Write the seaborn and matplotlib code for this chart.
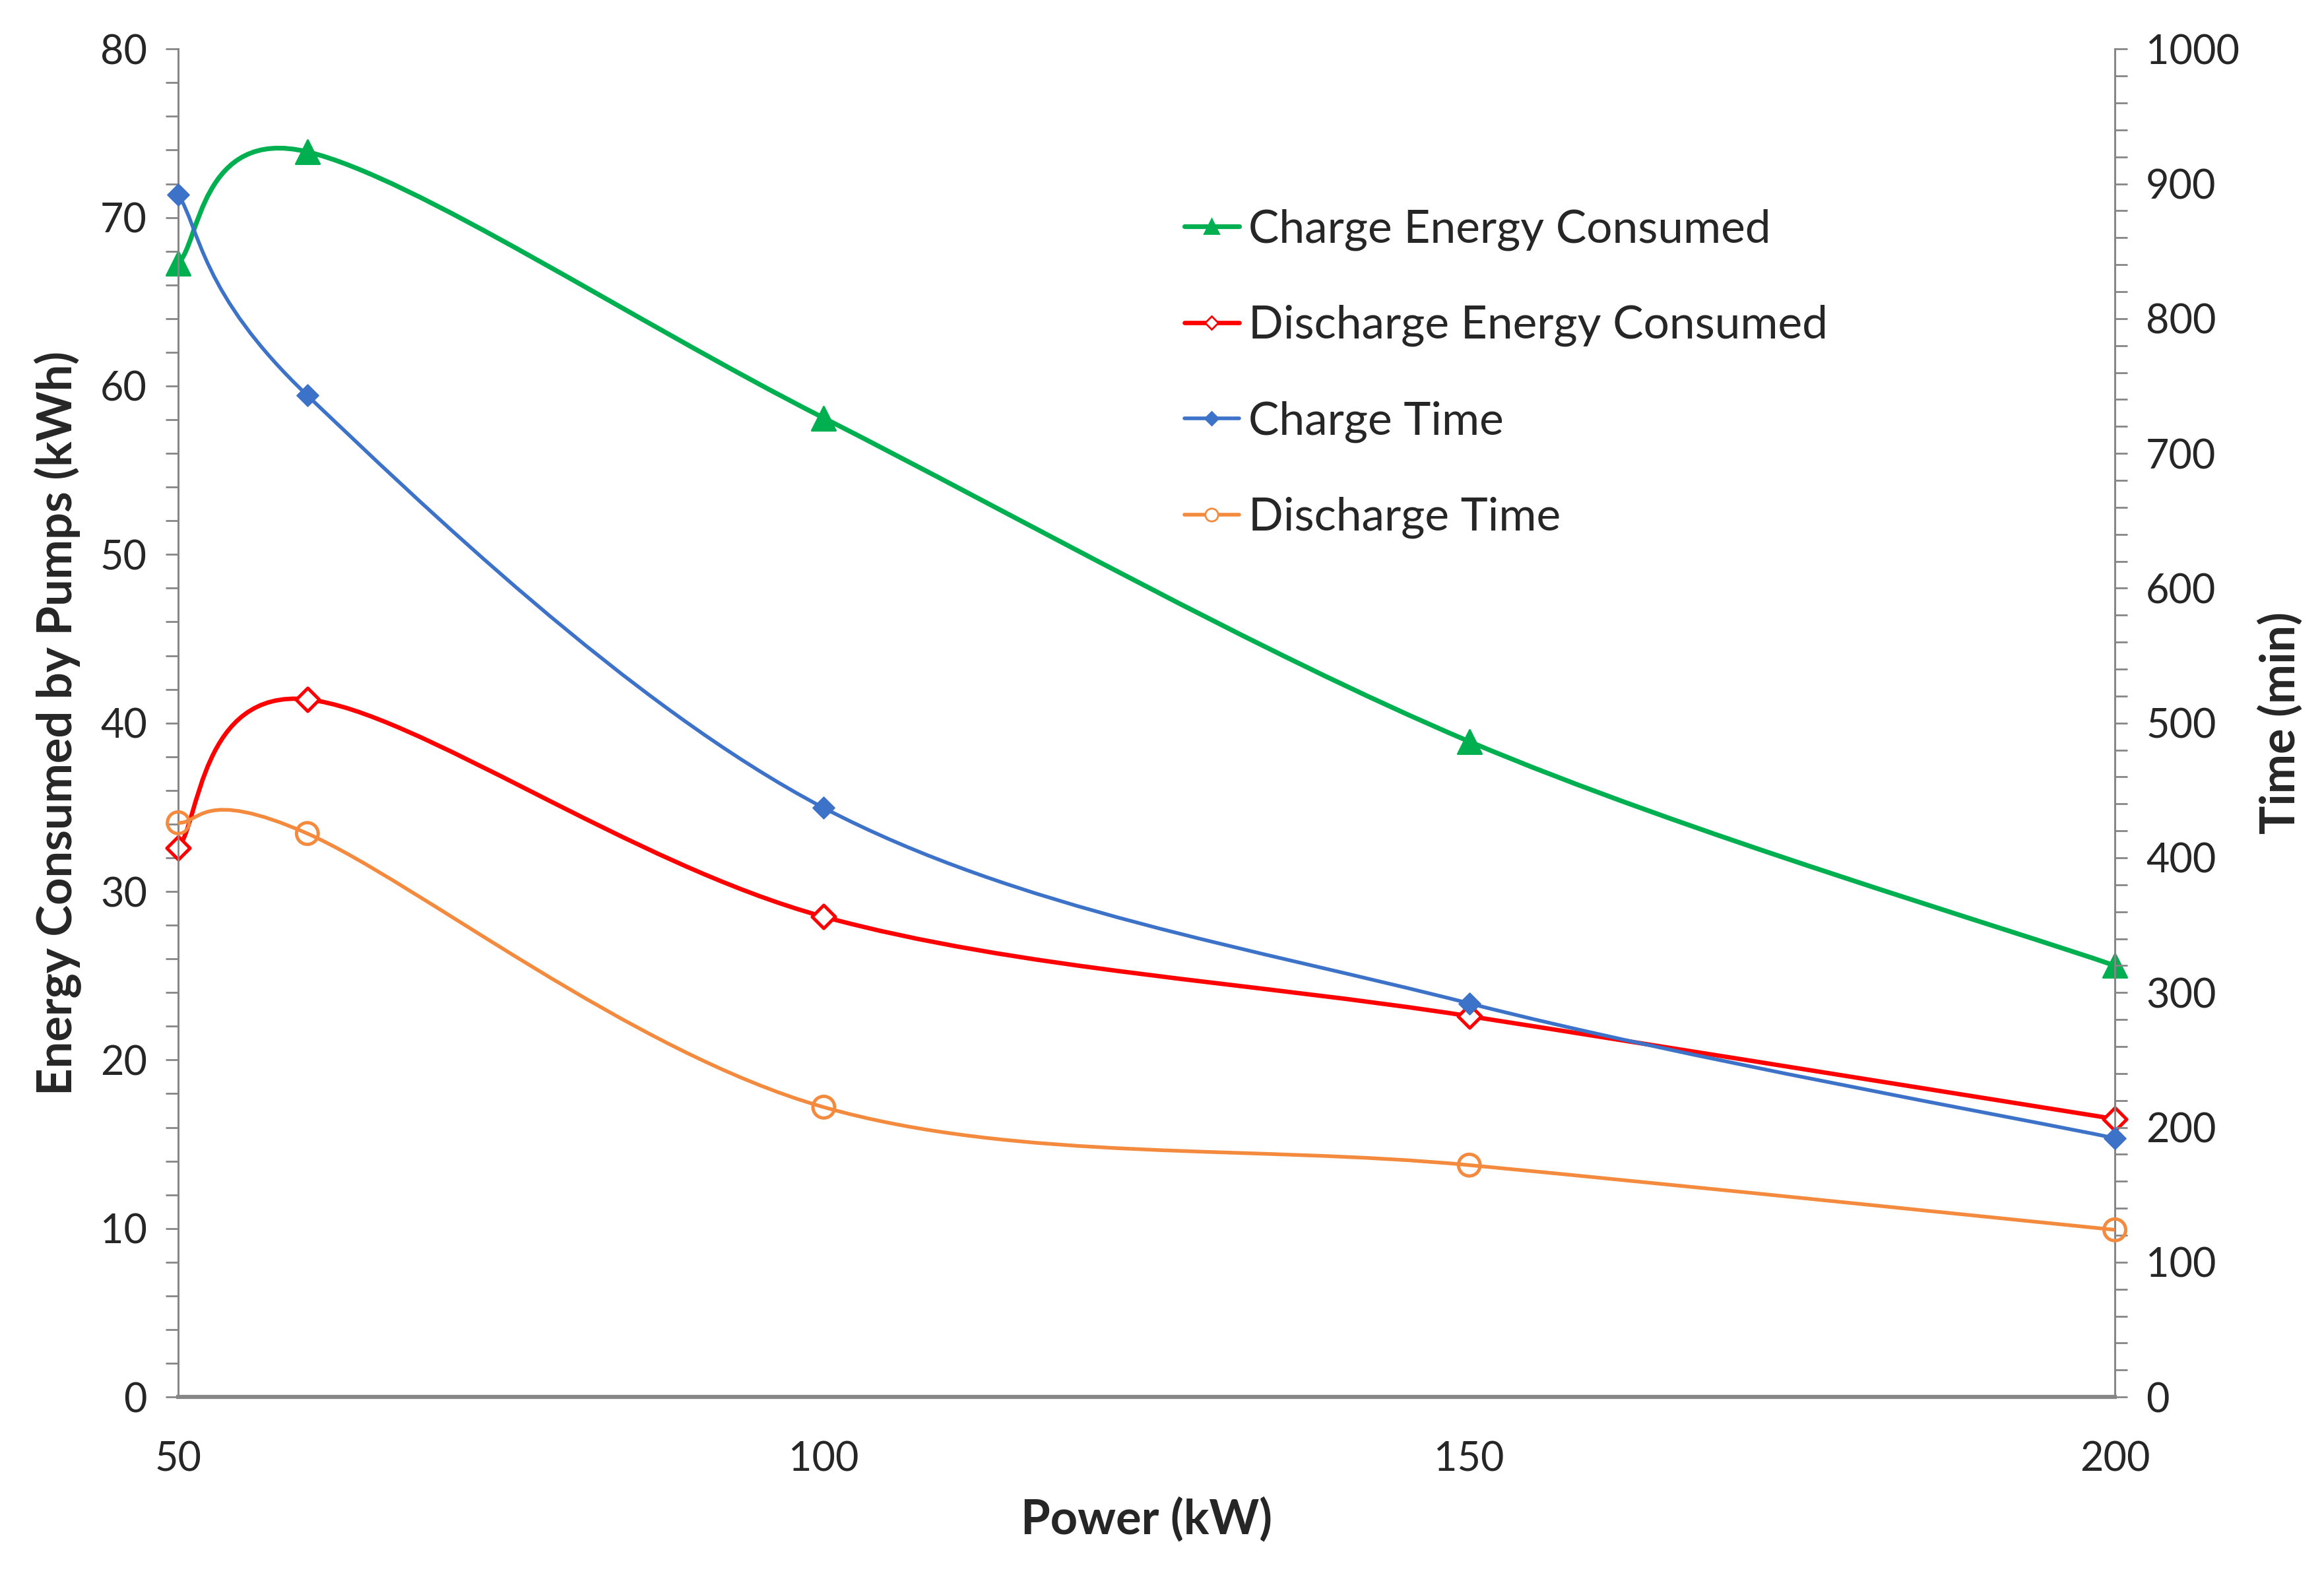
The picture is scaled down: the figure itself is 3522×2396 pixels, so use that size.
import numpy as np
import pandas as pd
import seaborn as sns
from matplotlib import pyplot as plt
from matplotlib.path import Path
from matplotlib.patches import PathPatch
from matplotlib.lines import Line2D
from matplotlib.ticker import MultipleLocator

# データ
power = [50, 60, 100, 150, 200]
charge_energy = [67.3, 73.9, 58.1, 38.9, 25.6]
discharge_energy = [32.6, 41.4, 28.5, 22.6, 16.5]
charge_time = [892, 743, 437, 292, 192]
discharge_time = [426, 418, 215, 172, 124]

sns.set_style("white")
plt.rcParams["font.family"] = ["Lato", "DejaVu Sans"]

GREEN = "#00B050"
RED = "#FF0000"
BLUE = "#3C72C8"
ORANGE = "#F38A3E"
AXIS = "#868686"


def smooth_path(x, y):
    # Excel風のスムージング (ベジェ曲線)
    p = np.column_stack([x, y]).astype(float)
    n = len(p)
    verts = [p[0]]
    codes = [Path.MOVETO]
    for i in range(n - 1):
        p0 = p[i - 1] if i > 0 else p[i]
        p3 = p[i + 2] if i + 2 < n else p[i + 1]
        c1 = p[i] + (p[i + 1] - p0) / 6
        c2 = p[i + 1] - (p3 - p[i]) / 6
        verts += [c1, c2, p[i + 1]]
        codes += [Path.CURVE4] * 3
    return Path(verts, codes)


fig, ax = plt.subplots(figsize=(17.61, 11.98), dpi=200)
fig.subplots_adjust(left=0.0767, right=0.910, top=0.969, bottom=0.1164)
ax2 = ax.twinx()

energy_df = pd.DataFrame({"power": power, "charge": charge_energy, "discharge": discharge_energy})
time_df = pd.DataFrame({"power": power, "charge": charge_time, "discharge": discharge_time})

# 曲線
ax.add_patch(PathPatch(smooth_path(power, charge_energy), fill=False, edgecolor=GREEN, lw=2.6, zorder=3))
ax.add_patch(PathPatch(smooth_path(power, discharge_energy), fill=False, edgecolor=RED, lw=2.4, zorder=3))
ax2.add_patch(PathPatch(smooth_path(power, charge_time), fill=False, edgecolor=BLUE, lw=2.0, zorder=3))
ax2.add_patch(PathPatch(smooth_path(power, discharge_time), fill=False, edgecolor=ORANGE, lw=2.0, zorder=3))

# マーカー
sns.scatterplot(data=energy_df, x="power", y="charge", marker="^", s=170, color=GREEN,
                edgecolor=GREEN, ax=ax, zorder=4, clip_on=False)
sns.scatterplot(data=energy_df, x="power", y="discharge", marker="D", s=80, facecolor="white",
                edgecolor=RED, linewidth=1.8, ax=ax, zorder=4, clip_on=False)
sns.scatterplot(data=time_df, x="power", y="charge", marker="D", s=70, color=BLUE,
                edgecolor=BLUE, ax=ax2, zorder=4, clip_on=False)
sns.scatterplot(data=time_df, x="power", y="discharge", marker="o", s=140, facecolor="none",
                edgecolor=ORANGE, linewidth=1.8, ax=ax2, zorder=4, clip_on=False)

# 軸
ax.set_xlim(50, 200)
ax.set_ylim(0, 80)
ax2.set_ylim(0, 1000)
ax.xaxis.set_major_locator(MultipleLocator(50))
ax.xaxis.set_minor_locator(MultipleLocator(10))
ax.yaxis.set_major_locator(MultipleLocator(10))
ax.yaxis.set_minor_locator(MultipleLocator(2))
ax2.yaxis.set_major_locator(MultipleLocator(100))
ax2.yaxis.set_minor_locator(MultipleLocator(20))

for a in (ax, ax2):
    for s in a.spines.values():
        s.set_color(AXIS)
        s.set_linewidth(1.0)
    a.spines["top"].set_visible(False)
    a.spines["bottom"].set_linewidth(2.2)
    a.tick_params(which="both", direction="out", color=AXIS, width=1.0, length=7, labelsize=22, pad=10)
    a.grid(False)

ax.tick_params(axis="x", which="both", length=10, pad=14)
ax.set_xlabel("Power (kW)", fontsize=26, fontweight="bold", labelpad=10)
ax.set_ylabel("Energy Consumed by Pumps (kWh)", fontsize=26, fontweight="bold", labelpad=10)
ax2.set_ylabel("Time (min)", fontsize=26, fontweight="bold", labelpad=10)

handles = [
    Line2D([], [], color=GREEN, lw=2.6, marker="^", markersize=8),
    Line2D([], [], color=RED, lw=2.4, marker="D", markersize=5, markerfacecolor="white", markeredgewidth=1.0),
    Line2D([], [], color=BLUE, lw=2.0, marker="D", markersize=5),
    Line2D([], [], color=ORANGE, lw=2.0, marker="o", markersize=7, markerfacecolor="white", markeredgewidth=1.0),
]
labels = ["Charge Energy Consumed", "Discharge Energy Consumed", "Charge Time", "Discharge Time"]
ax.legend(handles, labels, loc="upper left", bbox_to_anchor=(0.51, 0.895), frameon=False,
          fontsize=25, handlelength=1.2, handletextpad=0.2, labelspacing=1.18, borderaxespad=0)

plt.savefig("out.png", dpi=200)
